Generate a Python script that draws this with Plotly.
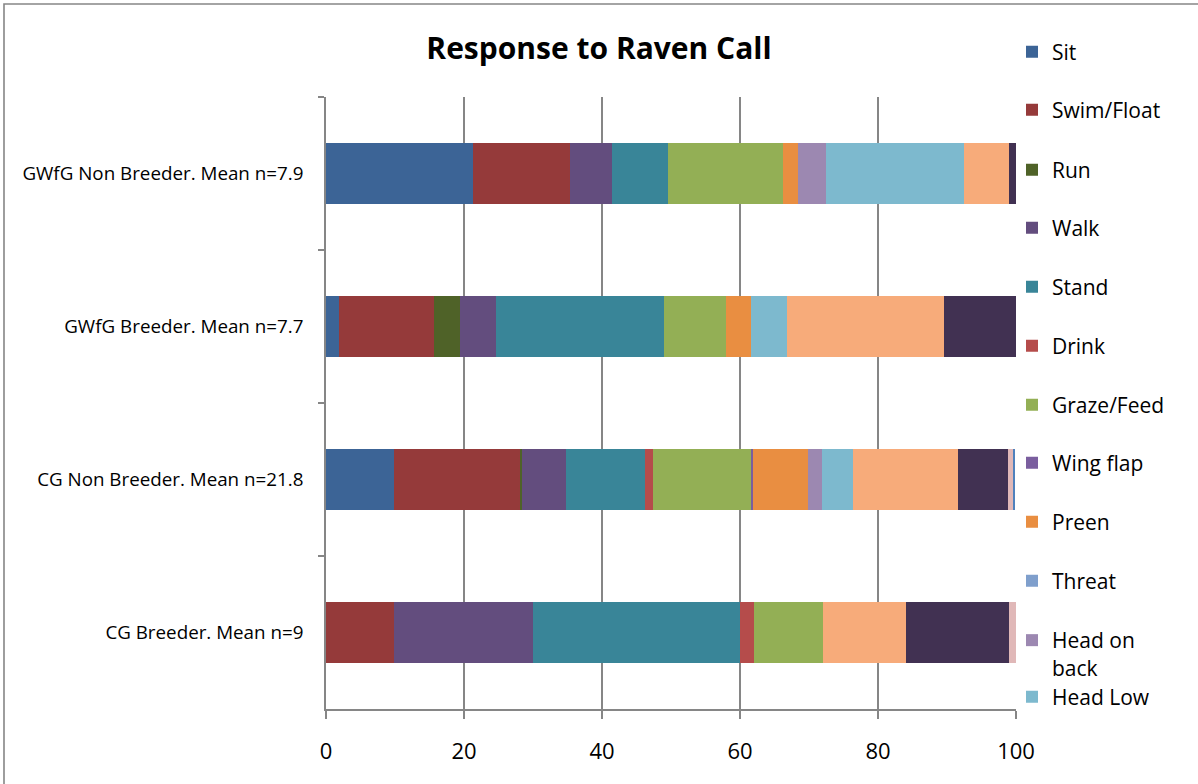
import plotly.graph_objects as go

# ---------------- data ----------------
categories = [
    "GWfG Non Breeder. Mean n=7.9",
    "GWfG Breeder. Mean n=7.7",
    "CG Non Breeder. Mean n=21.8",
    "CG Breeder. Mean n=9",
]

series_names = [
    "Sit", "Swim/Float", "Run", "Walk", "Stand", "Drink", "Graze/Feed",
    "Wing flap", "Preen", "Threat", "Head on back", "Head Low",
    "Head Up", "Alert", "Fly", "Other",
]

sit = [21.3, 1.9, 9.8, 0]
swim_float = [14.0, 13.7, 18.3, 9.9]
run = [0, 3.8, 0.3, 0]
walk = [6.2, 5.2, 6.4, 20.1]
stand = [8.0, 24.4, 11.5, 30.0]
drink = [0, 0, 1.1, 2.0]
graze_feed = [16.8, 8.9, 14.3, 10.0]
wing_flap = [0, 0, 0.2, 0]
preen = [2.1, 3.7, 8.0, 0]
threat = [0, 0, 0, 0]
head_on_back = [4.0, 0, 2.0, 0]
head_low = [20.0, 5.2, 4.5, 0]
head_up = [6.6, 22.8, 15.2, 12.0]
alert = [1.0, 10.4, 7.3, 15.0]
fly = [0, 0, 0.8, 1.0]
other = [0, 0, 0.2, 0]

series_values = [sit, swim_float, run, walk, stand, drink, graze_feed,
                 wing_flap, preen, threat, head_on_back, head_low,
                 head_up, alert, fly, other]

colors = ["#3C6496", "#953A3A", "#4F6228", "#634D7E", "#398598", "#B54C4B",
          "#93AF55", "#7A5E9E", "#E98E41", "#7F9FCC", "#9C88B1", "#7DB9CE",
          "#F7AB7A", "#413152", "#E0B8B8", "#4F81BD"]

x_ticks = [0, 20, 40, 60, 80, 100]

# legend item vertical centres (px from top) for the visible legend entries
legend_py = [52, 110, 170, 228, 287, 346, 405, 463, 522, 581, 636, 697]

# ---------------- geometry ----------------
W, H = 1198, 784
L, R, T, B = 326, 182, 97, 75
PW, PH = W - L - R, H - T - B
GRAY = "#868686"
FONT = "Open Sans"

fig = go.Figure()
layout_legends = {}
for i, (name, vals, col) in enumerate(zip(series_names, series_values, colors)):
    visible_in_legend = i < len(legend_py)
    lkey = "legend" if i == 0 else f"legend{i + 1}"
    label = "Head on<br>back" if name == "Head on back" else name
    fig.add_trace(go.Bar(
        y=categories, x=vals, name=label, orientation="h",
        marker=dict(color=col, line=dict(width=0)),
        showlegend=visible_in_legend,
        legend=lkey if visible_in_legend else "legend",
        hovertemplate=name + ": %{x}<extra>%{y}</extra>",
    ))
    if visible_in_legend:
        py = legend_py[i]
        two_line = name == "Head on back"
        layout_legends[lkey] = dict(
            x=(1012 - L) / PW, xanchor="left",
            y=(H - B - (py - 16 if two_line else py)) / PH,
            yanchor="top" if two_line else "middle",
            valign="top",
            bgcolor="rgba(0,0,0,0)", borderwidth=0,
            font=dict(family=FONT, size=21, color="#000000"),
        )

fig.update_layout(
    width=W, height=H,
    margin=dict(l=L, r=R, t=T, b=B),
    paper_bgcolor="white", plot_bgcolor="white",
    barmode="stack", bargap=0.6,
    title=dict(text="<b>Response to Raven Call</b>", xref="container", x=0.5,
               xanchor="center", y=1 - 48 / H, yanchor="middle",
               font=dict(family=FONT, size=30, color="#000000")),
    font=dict(family=FONT, color="#000000"),
    **layout_legends,
)

fig.update_xaxes(
    range=[0, 100], tickvals=x_ticks, ticktext=[str(v) for v in x_ticks],
    showgrid=True, gridcolor=GRAY, gridwidth=1.6,
    showline=True, linecolor=GRAY, linewidth=1.6,
    ticks="outside", ticklen=8, tickwidth=1.6, tickcolor=GRAY,
    ticklabelstandoff=14,
    tickfont=dict(family=FONT, size=22, color="#000000"),
    zeroline=False, fixedrange=True,
)
fig.update_yaxes(
    autorange="reversed", type="category",
    showgrid=False, showline=True, linecolor=GRAY, linewidth=1.6,
    ticks="outside", ticklen=6, tickwidth=1.6, tickcolor=GRAY,
    tickson="boundaries", ticklabelstandoff=17,
    tickfont=dict(family=FONT, size=18.8, color="#000000"),
    zeroline=False, fixedrange=True,
)

# chart outer border (runs off the right and bottom of the picture)
fig.add_shape(type="rect", xref="paper", yref="paper",
              x0=(4 - L) / PW, x1=(W + 20 - L) / PW,
              y0=-(B + 20) / PH, y1=(H - B - 4) / PH,
              line=dict(color=GRAY, width=1.6), fillcolor="rgba(0,0,0,0)",
              layer="below")

fig.write_html("out.html")
